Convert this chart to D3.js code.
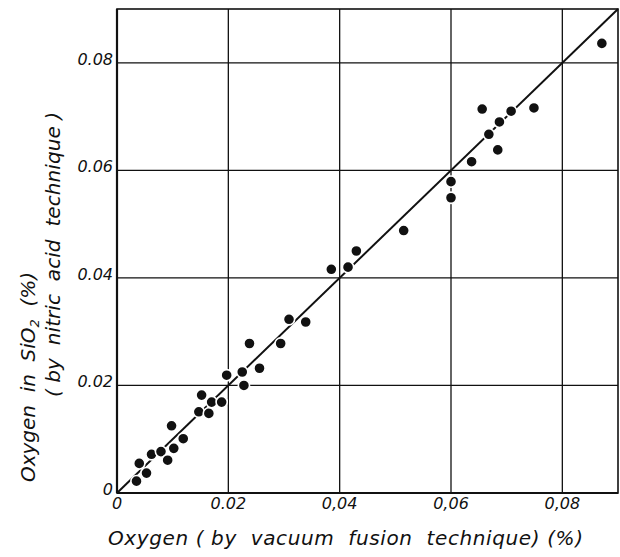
<!DOCTYPE html>
<html>
<head>
<meta charset="utf-8">
<script src="https://cdn.jsdelivr.net/npm/d3@7"></script>
<style>
  body { margin: 0; background: #fff; }
  svg { display: block; }
  text { font-family: "DejaVu Sans", sans-serif; font-style: italic; fill: #111; }
</style>
</head>
<body>
<svg id="chart" width="620" height="557"></svg>
<script>
// tick values and their printed labels (the x axis mixes "." and ",")
const tickValues = [0, 0.02, 0.04, 0.06, 0.08];
const xTickLabels = ["0", "0.02", "0,04", "0,06", "0,08"];
const yTickLabels = ["0", "0.02", "0.04", "0.06", "0.08"];

// oxygen (%) by vacuum fusion technique
const vacuumFusion = [
  0.0035, 0.0053, 0.0040, 0.0062, 0.0079, 0.0091, 0.0102, 0.0119, 0.0098,
  0.0147, 0.0165, 0.0152, 0.0170, 0.0188, 0.0228, 0.0197, 0.0225, 0.0256,
  0.0238, 0.0294, 0.0309, 0.0339, 0.0385, 0.0415, 0.0430, 0.0515, 0.0600,
  0.0600, 0.0637, 0.0684, 0.0668, 0.0687, 0.0656, 0.0708, 0.0749, 0.0871
];
// oxygen in SiO2 (%) by nitric acid technique
const nitricAcid = [
  0.0022, 0.0037, 0.0055, 0.0072, 0.0077, 0.0061, 0.0083, 0.0101, 0.0125,
  0.0151, 0.0148, 0.0182, 0.0169, 0.0169, 0.0200, 0.0219, 0.0225, 0.0232,
  0.0278, 0.0278, 0.0323, 0.0318, 0.0416, 0.0420, 0.0450, 0.0488, 0.0549,
  0.0579, 0.0616, 0.0638, 0.0667, 0.0690, 0.0714, 0.0710, 0.0716, 0.0836
];
const domainMax = 0.09;

const svg = d3.select("#chart");
const plotLeft = 117, plotRight = 618, plotTop = 9, plotBottom = 493;

const x = d3.scaleLinear().domain([0, domainMax]).range([plotLeft, plotRight]);
const y = d3.scaleLinear().domain([0, domainMax]).range([plotBottom, plotTop]);

// grid
const grid = svg.append("g").attr("stroke", "#111").attr("stroke-width", 1.3);
grid.selectAll(".gx").data(tickValues.slice(1)).enter().append("line")
  .attr("x1", d => x(d)).attr("x2", d => x(d))
  .attr("y1", plotTop).attr("y2", plotBottom);
grid.selectAll(".gy").data(tickValues.slice(1)).enter().append("line")
  .attr("y1", d => y(d)).attr("y2", d => y(d))
  .attr("x1", plotLeft).attr("x2", plotRight);

// frame
svg.append("rect")
  .attr("x", plotLeft).attr("y", plotTop)
  .attr("width", plotRight - plotLeft).attr("height", plotBottom - plotTop)
  .attr("fill", "none").attr("stroke", "#111").attr("stroke-width", 1.6);
svg.append("line")
  .attr("x1", plotLeft).attr("x2", plotRight).attr("y1", plotBottom).attr("y2", plotBottom)
  .attr("stroke", "#111").attr("stroke-width", 2.2);
svg.append("line")
  .attr("x1", plotLeft).attr("x2", plotLeft).attr("y1", plotTop).attr("y2", plotBottom)
  .attr("stroke", "#111").attr("stroke-width", 2.2);

// y = x line
svg.append("line")
  .attr("x1", x(0)).attr("y1", y(0))
  .attr("x2", x(domainMax)).attr("y2", y(domainMax))
  .attr("stroke", "#111").attr("stroke-width", 2);

// points (white rim breaks the line like the hand drawn original)
svg.append("g").selectAll("circle")
  .data(vacuumFusion.map((v, i) => [v, nitricAcid[i]]))
  .enter().append("circle")
  .attr("cx", d => x(d[0])).attr("cy", d => y(d[1]))
  .attr("r", 5.6)
  .attr("fill", "#111")
  .attr("stroke", "#fff").attr("stroke-width", 1.6);

// tick labels
svg.append("g").selectAll("text").data(tickValues).enter().append("text")
  .attr("x", d => x(d)).attr("y", 509)
  .attr("text-anchor", "middle").attr("font-size", 16)
  .text((d, i) => xTickLabels[i]);
svg.append("g").selectAll("text").data(tickValues).enter().append("text")
  .attr("x", 113).attr("y", d => y(d) + 2)
  .attr("text-anchor", "end").attr("font-size", 16)
  .text((d, i) => yTickLabels[i]);

// axis titles
svg.append("text")
  .attr("x", 345.5).attr("y", 545)
  .attr("text-anchor", "middle").attr("font-size", 20)
  .attr("textLength", 475).attr("lengthAdjust", "spacing")
  .style("white-space", "pre")
  .text("Oxygen ( by  vacuum  fusion  technique) (%)");

const yt1 = svg.append("text")
  .attr("transform", "translate(35,377) rotate(-90)")
  .attr("text-anchor", "middle").attr("font-size", 20)
  .attr("textLength", 210).attr("lengthAdjust", "spacing")
  .style("white-space", "pre");
yt1.append("tspan").text("Oxygen  in  SiO");
yt1.append("tspan").attr("font-size", 13).attr("dy", 4).text("2");
yt1.append("tspan").attr("dy", -4).text("  (%)");

svg.append("text")
  .attr("transform", "translate(60,254.5) rotate(-90)")
  .attr("text-anchor", "middle").attr("font-size", 20)
  .attr("textLength", 285).attr("lengthAdjust", "spacing")
  .style("white-space", "pre")
  .text("( by  nitric  acid  technique )");
</script>
</body>
</html>
